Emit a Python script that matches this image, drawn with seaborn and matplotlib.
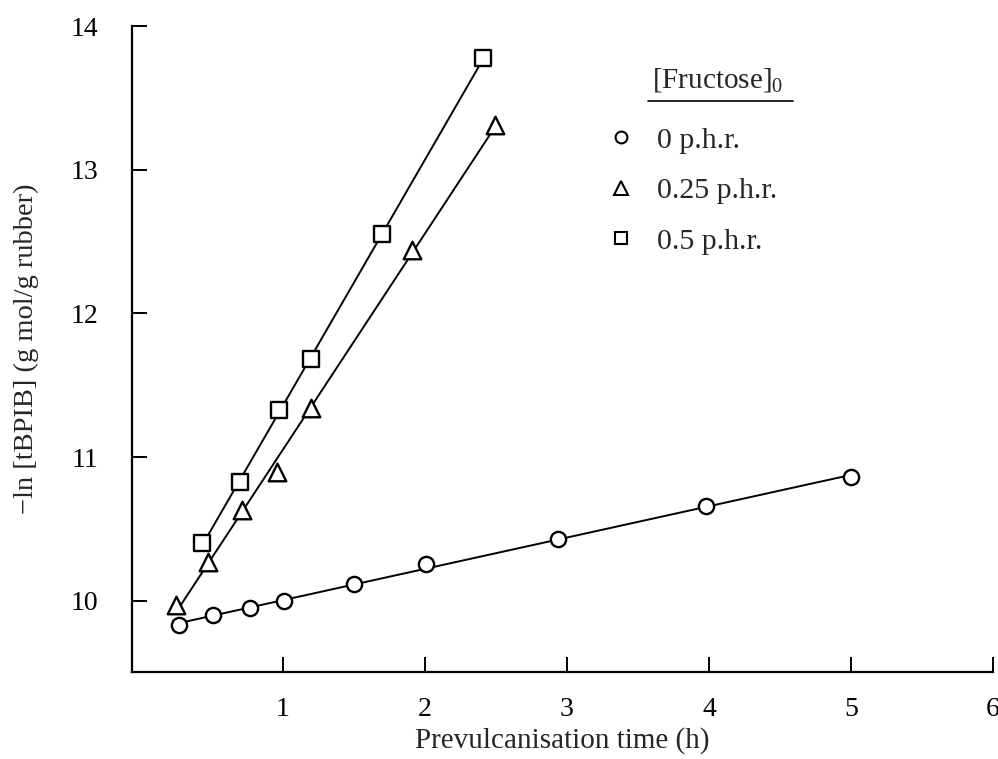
import numpy as np
import pandas as pd
import matplotlib
matplotlib.use("Agg")
import matplotlib.pyplot as plt
import seaborn as sns
from matplotlib.lines import Line2D

# ---- data ----
time_0 = [0.27, 0.51, 0.77, 1.01, 1.50, 2.01, 2.94, 3.98, 5.00]
lnb_0 = [9.83, 9.90, 9.95, 10.00, 10.12, 10.26, 10.43, 10.66, 10.86]
time_025 = [0.25, 0.47, 0.71, 0.96, 1.20, 1.91, 2.49]
lnb_025 = [9.97, 10.27, 10.63, 10.90, 11.34, 12.44, 13.31]
time_05 = [0.43, 0.70, 0.97, 1.20, 1.70, 2.41]
lnb_05 = [10.40, 10.83, 11.33, 11.68, 12.55, 13.78]
series_labels = ["0 p.h.r.", "0.25 p.h.r.", "0.5 p.h.r."]
series_markers = ["o", "^", "s"]
legend_title = "[Fructose]$_0$"
x_ticks = [1, 2, 3, 4, 5, 6]
y_ticks = [10, 11, 12, 13, 14]

sns.set_theme(style="ticks")
plt.rcParams["font.family"] = ["Liberation Serif", "DejaVu Serif"]
plt.rcParams["mathtext.fontset"] = "custom"
plt.rcParams["mathtext.rm"] = "Liberation Serif"
plt.rcParams["mathtext.it"] = "Liberation Serif:italic"

fig = plt.figure(figsize=(9.98, 7.59), dpi=100)
ax = fig.add_axes([132 / 998, 1 - 672 / 759, (993 - 132) / 998, (672 - 26) / 759])

groups = [(time_0, lnb_0), (time_025, lnb_025), (time_05, lnb_05)]
marker_sizes = [120, 160, 120]
handles = []
for (xs, ys), lab, mk, ms in zip(groups, series_labels, series_markers, marker_sizes):
    df = pd.DataFrame({"t": xs, "v": ys})
    sns.regplot(data=df, x="t", y="v", ax=ax, ci=None, scatter=False, truncate=True,
                line_kws=dict(color="black", lw=1.4, zorder=2))
    sns.scatterplot(data=df, x="t", y="v", ax=ax, marker=mk, s=ms, color="white",
                    edgecolor="black", linewidth=1.7, zorder=3, legend=False)
    handles.append(Line2D([], [], ls="none", marker=mk, markersize=8.5 if mk != "^" else 10,
                          markerfacecolor="white", markeredgecolor="black",
                          markeredgewidth=1.5, label=lab))

ax.set_xlim(-0.063, 6.0)
ax.set_ylim(9.506, 14.0)
ax.set_xticks(x_ticks)
ax.set_yticks(y_ticks)
ax.tick_params(axis="both", direction="in", length=11, width=1.4, labelsize=20,
               colors="black")
ax.tick_params(axis="y", pad=24)
ax.tick_params(axis="x", pad=18)
for side in ["top", "right"]:
    ax.spines[side].set_visible(False)
for side in ["left", "bottom"]:
    ax.spines[side].set_linewidth(1.6)
    ax.spines[side].set_color("black")

ax.set_xlabel("Prevulcanisation time (h)", fontsize=21, labelpad=4)
ax.set_ylabel("\u2212ln [tBPIB] (g mol/g rubber)", fontsize=20.5, labelpad=23)

leg = ax.legend(handles=handles, loc="upper left",
                bbox_to_anchor=(579 / 998, 1 - 100 / 759), bbox_transform=fig.transFigure,
                frameon=False, fontsize=21.5, labelspacing=0.79, handlelength=1.0,
                handletextpad=0.7)

fig.text(652 / 998, 1 - 88 / 759, legend_title, fontsize=21, ha="left", va="baseline")
fig.add_artist(Line2D([648 / 998, 793 / 998], [1 - 101 / 759] * 2,
                      transform=fig.transFigure, color="black", lw=1.2))

fig.savefig("out.png", dpi=100, facecolor="white")
